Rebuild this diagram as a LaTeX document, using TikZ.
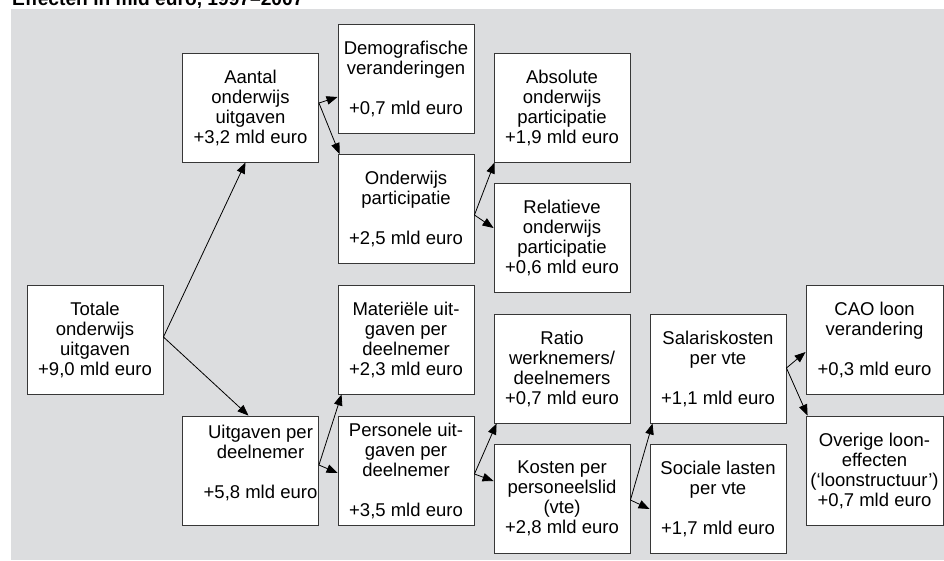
\documentclass[tikz,border=0pt]{standalone}
\usepackage{fontspec}
\setmainfont{Liberation Sans}
\usetikzlibrary{arrows.meta,calc}
\definecolor{bggray}{RGB}{220,221,223}
\definecolor{boxline}{RGB}{55,55,55}
\begin{document}
\begin{tikzpicture}[x=1pt,y=-1pt,
  box/.style={draw=boxline,line width=0.9pt,fill=white,minimum width=136pt,minimum height=109pt,inner sep=0pt,align=center,font=\fontsize{18.5}{20}\selectfont},
  txt/.style={inner sep=0pt,align=center,font=\fontsize{18.5}{20}\selectfont},
  arr/.style={draw=black,line width=0.8pt,-{Triangle[length=11pt,width=8.5pt]}}]
\useasboundingbox (0,0) rectangle (944,560);
\fill[bggray] (11,9) rectangle (944,560);
\node[anchor=base west,inner sep=0pt,font=\bfseries\fontsize{19.2}{20}\selectfont] (title) at (12,5.5) {Effecten in mld euro, 1997–2007};

\node[box] (aantal) at (250.5,107.5) {Aantal\\onderwijs\\uitgaven\\+3,2 mld euro};
\node[box] (demo) at (406,78.5) {Demografische\\veranderingen\\~\\+0,7 mld euro};
\node[box] (opart) at (406,209) {Onderwijs\\participatie\\~\\+2,5 mld euro};
\node[box] (abs) at (562,107.5) {Absolute\\onderwijs\\participatie\\+1,9 mld euro};
\node[box] (rel) at (562,237.5) {Relatieve\\onderwijs\\participatie\\+0,6 mld euro};
\node[box] (tot) at (95,339.5) {Totale\\onderwijs\\uitgaven\\+9,0 mld euro};
\node[box] (mat) at (406,339.5) {Materiële uit-\\gaven per\\deelnemer\\+2,3 mld euro};
\node[box] (uitg) at (250.5,470.5) {};
\node[txt] (uitgT) at ($(uitg)+(10,-7.5)$) {Uitgaven per\\deelnemer\\~\\+5,8 mld euro};
\node[box] (pers) at (406,470.5) {Personele uit-\\gaven per\\deelnemer\\~\\+3,5 mld euro};
\node[box] (ratio) at (562,368.5) {Ratio\\werknemers/\\deelnemers\\+0,7 mld euro};
\node[box] (kost) at (562,498.5) {Kosten per\\personeelslid\\(vte)\\+2,8 mld euro};
\node[box] (sal) at (718,368.5) {Salariskosten\\per vte\\~\\+1,1 mld euro};
\node[box] (soc) at (718,498.5) {Sociale lasten\\per vte\\~\\+1,7 mld euro};
\node[box,minimum width=137pt] (cao) at (874.5,339.5) {CAO loon\\verandering\\~\\+0,3 mld euro};
\node[box,minimum width=137pt] (over) at (874.5,470.5) {Overige loon-\\effecten\\(‘loonstructuur’)\\+0,7 mld euro};

\draw[arr] ($(tot.east)+(0,-2.5)$) -- ($(aantal.south)+(-5,0)$);
\draw[arr] ($(tot.east)+(0,-2.5)$) -- ($(uitg.north)+(-2,0)$);
\draw[arr] ($(aantal.east)+(0,-4.5)$) -- ($(demo.west)+(0,18.5)$);
\draw[arr] ($(aantal.east)+(0,-4.5)$) -- ($(opart.north west)+(2,0)$);
\draw[arr] ($(opart.east)+(0,6)$) -- ($(abs.south west)+(1,0)$);
\draw[arr] ($(opart.east)+(0,6)$) -- ($(rel.west)+(0,-9.5)$);
\draw[arr] ($(uitg.east)+(0,-5.5)$) -- ($(mat.south west)+(4,0)$);
\draw[arr] ($(uitg.east)+(0,-5.5)$) -- ($(pers.west)+(0,2.5)$);
\draw[arr] ($(pers.east)+(0,3.5)$) -- ($(ratio.south west)+(3,0)$);
\draw[arr] ($(pers.east)+(0,3.5)$) -- ($(kost.west)+(0,-17.5)$);
\draw[arr] ($(kost.east)+(0,1.5)$) -- ($(sal.south west)+(3,0)$);
\draw[arr] ($(kost.east)+(0,1.5)$) -- ($(soc.west)+(0,10.5)$);
\draw[arr] ($(sal.east)+(0,-0.5)$) -- ($(cao.west)+(0,12.5)$);
\draw[arr] ($(sal.east)+(0,-0.5)$) -- ($(over.north west)+(2,0)$);
\end{tikzpicture}
\end{document}
